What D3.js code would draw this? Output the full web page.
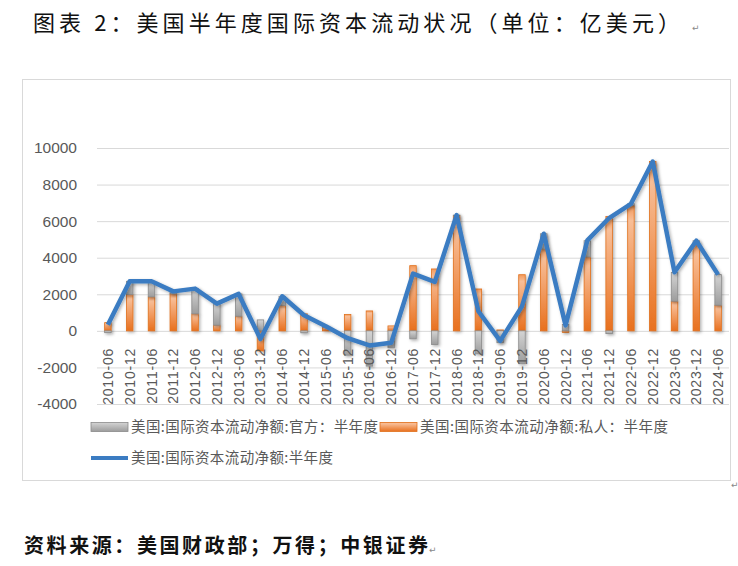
<!DOCTYPE html>
<html>
<head>
<meta charset="utf-8">
<script src="https://cdn.jsdelivr.net/npm/d3@7"></script>
<style>
    body { margin: 0; background: #fff; }
    svg { display: block; }
</style>
</head>
<body>
<svg id="flow-chart" width="738" height="566"></svg>
<script>
'use strict';

const categories = ['2010-06', '2010-12', '2011-06', '2011-12', '2012-06', '2012-12', '2013-06', '2013-12',
    '2014-06', '2014-12', '2015-06', '2015-12', '2016-06', '2016-12', '2017-06', '2017-12', '2018-06',
    '2018-12', '2019-06', '2019-12', '2020-06', '2020-12', '2021-06', '2021-12', '2022-06', '2022-12',
    '2023-06', '2023-12', '2024-06'];

// 私人
const privateFlow = [450, 1980, 1855, 2020, 930, 310, 800, -1100, 1380, 930, 200, 890, 1090, 270, 3565,
    3385, 6300, 2290, 50, 3070, 4475, -80, 4040, 6260, 6850, 9260, 1620, 4750, 1400];

// 官方
const officialFlow = [-100, 730, 855, 140, 1380, 1180, 1220, 600, 510, -110, 20, -1330, -1930, -930, -440,
    -750, 30, -1260, -650, -1800, 835, 350, 890, -150, 100, 0, 1580, 180, 1675];

// 净额
const netFlow = [340, 2710, 2710, 2160, 2310, 1490, 2020, -450, 1890, 850, 250, -400, -800, -655, 3130,
    2675, 6330, 1070, -550, 1340, 5310, 300, 4950, 6170, 6950, 9260, 3200, 4930, 3075];

const yTicks = [-4000, -2000, 0, 2000, 4000, 6000, 8000, 10000];

const legendLabels = ['美国:国际资本流动净额:官方：半年度', '美国:国际资本流动净额:私人：半年度', '美国:国际资本流动净额:半年度'];

const titleText = '图表 2：美国半年度国际资本流动状况（单位：亿美元）';
const sourceText = '资料来源：美国财政部；万得；中银证券';

class FlowChart {

    constructor(id) {
        this.svg = d3.select('#' + id);
        this.rows = categories.map((c, i) => ({
            date: c,
            private: privateFlow[i],
            official: officialFlow[i],
            net: netFlow[i]
        }));
        this.render();
    }

    defs() {
        let defs = this.svg.append('defs');

        let orange = defs.append('linearGradient').attr('id', 'g-orange')
            .attr('x1', 0).attr('y1', 0).attr('x2', 0).attr('y2', 1);
        orange.append('stop').attr('offset', '0%').attr('stop-color', '#F39A5C');
        orange.append('stop').attr('offset', '12%').attr('stop-color', '#F8BE97');
        orange.append('stop').attr('offset', '100%').attr('stop-color', '#E8701E');

        let grey = defs.append('linearGradient').attr('id', 'g-grey')
            .attr('x1', 0).attr('y1', 0).attr('x2', 0).attr('y2', 1);
        grey.append('stop').attr('offset', '0%').attr('stop-color', '#D4D4D4');
        grey.append('stop').attr('offset', '100%').attr('stop-color', '#9C9C9C');

        defs.append('filter').attr('id', 'shadow')
            .attr('x', '-20%').attr('y', '-20%').attr('width', '140%').attr('height', '140%')
            .append('feDropShadow')
            .attr('dx', 1.5).attr('dy', 1.5).attr('stdDeviation', 1.5)
            .attr('flood-color', '#000').attr('flood-opacity', 0.3);
    }

    render() {
        this.svg.selectAll('*').remove();
        this.defs();

        this.svg.append('rect').attr('width', 738).attr('height', 566).attr('fill', '#fff');

        this.svg.append('text')
            .attr('x', 33).attr('y', 31)
            .attr('textLength', 647)
            .style('font-family', '"Noto Sans CJK SC"')
            .style('font-size', '22px')
            .style('font-weight', 400)
            .style('fill', '#111')
            .text(titleText);
        this.svg.append('text').attr('x', 692).attr('y', 31)
            .style('font-family', '"DejaVu Sans"').style('font-size', '9px').style('fill', '#888')
            .text('↵');

        // chart frame
        this.svg.append('rect')
            .attr('x', 22.5).attr('y', 79.5).attr('width', 708).attr('height', 401)
            .attr('fill', 'none').attr('stroke', '#D9D9D9');
        this.svg.append('text').attr('x', 731).attr('y', 488)
            .style('font-family', '"DejaVu Sans"').style('font-size', '9px').style('fill', '#888')
            .text('↵');

        this.x = d3.scaleBand().domain(categories).range([97, 729]);
        this.y = d3.scaleLinear().domain([-4000, 10000]).range([404, 148]);
        let cx = (d) => this.x(d) + this.x.bandwidth() / 2;

        // gridlines + y labels
        let yAxis = this.svg.append('g')
            .attr('transform', 'translate(97,0)')
            .call(d3.axisLeft(this.y).tickValues(yTicks).tickSize(-632).tickPadding(20).tickFormat((d) => String(d)));
        yAxis.select('.domain').remove();
        yAxis.selectAll('line').attr('stroke', '#D9D9D9');
        yAxis.selectAll('text')
            .style('font-family', '"Liberation Sans", Arial, sans-serif')
            .style('font-size', '15.5px')
            .style('fill', '#595959');

        // stacked bars
        let stack = d3.stack().keys(['private', 'official']).offset(d3.stackOffsetDiverging);
        let series = stack(this.rows);
        let fills = {private: 'url(#g-orange)', official: 'url(#g-grey)'};
        let strokes = {private: '#E0701C', official: '#8A8A8A'};
        let barW = 6.5;

        this.svg.append('g')
            .selectAll('g')
            .data(series)
            .enter()
            .append('g')
            .attr('fill', (s) => fills[s.key])
            .attr('stroke', (s) => strokes[s.key])
            .attr('filter', 'url(#shadow)')
            .selectAll('rect')
            .data((s) => s)
            .enter()
            .append('rect')
            .attr('x', (d) => cx(d.data.date) - barW / 2)
            .attr('width', barW)
            .attr('y', (d) => this.y(Math.max(d[0], d[1])))
            .attr('height', (d) => Math.abs(this.y(d[0]) - this.y(d[1])))
            .attr('stroke-width', 0.8);

        // x labels next to the zero line
        let xAxis = this.svg.append('g')
            .attr('transform', 'translate(0,' + this.y(0) + ')')
            .call(d3.axisBottom(this.x).tickSize(0));
        xAxis.select('.domain').remove();
        xAxis.selectAll('text')
            .attr('transform', 'rotate(-90)')
            .attr('x', -17)
            .attr('y', 0)
            .attr('dy', '0.36em')
            .style('text-anchor', 'end')
            .style('font-family', '"Liberation Sans", Arial, sans-serif')
            .style('font-size', '14px')
            .style('letter-spacing', '0.8px')
            .style('fill', '#595959');

        // net line
        let line = d3.line()
            .x((d) => cx(d.date))
            .y((d) => this.y(d.net));
        this.svg.append('path')
            .datum(this.rows)
            .attr('d', line)
            .attr('fill', 'none')
            .attr('stroke', '#3B7CC2')
            .attr('stroke-width', 4.5)
            .attr('stroke-linejoin', 'round')
            .attr('filter', 'url(#shadow)');

        this.legend();

        this.svg.append('text')
            .attr('x', 24).attr('y', 553)
            .attr('textLength', 404)
            .style('font-family', '"Noto Sans CJK SC"')
            .style('font-size', '20px')
            .style('font-weight', 700)
            .style('fill', '#111')
            .text(sourceText);
        this.svg.append('text').attr('x', 429).attr('y', 553)
            .style('font-family', '"DejaVu Sans"').style('font-size', '9px').style('fill', '#888')
            .text('↵');
    }

    legend() {
        let items = [
            {x: 91, y: 427, kind: 'official', w: 247},
            {x: 380, y: 427, kind: 'private', w: 248},
            {x: 91, y: 458, kind: 'line', w: 202}
        ];
        let g = this.svg.append('g');
        items.forEach((it, i) => {
            if (it.kind === 'line') {
                g.append('line')
                    .attr('x1', it.x).attr('x2', it.x + 37)
                    .attr('y1', it.y).attr('y2', it.y)
                    .attr('stroke', '#3B7CC2').attr('stroke-width', 4);
            } else {
                g.append('rect')
                    .attr('x', it.x).attr('y', it.y - 4.5)
                    .attr('width', 37).attr('height', 9)
                    .attr('fill', it.kind === 'private' ? 'url(#g-orange)' : 'url(#g-grey)')
                    .attr('stroke', it.kind === 'private' ? '#E0701C' : '#8A8A8A')
                    .attr('stroke-width', 0.8);
            }
            g.append('text')
                .attr('x', it.x + 40).attr('y', it.y)
                .attr('dy', '0.35em')
                .attr('textLength', it.w)
                .style('font-family', '"Noto Sans CJK SC"')
                .style('font-size', '14.5px')
                .style('fill', '#595959')
                .text(legendLabels[i]);
        });
    }
}

new FlowChart('flow-chart');
</script>
</body>
</html>
